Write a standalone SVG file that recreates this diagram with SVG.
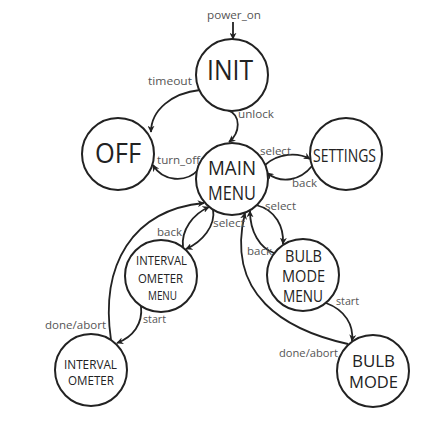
<svg xmlns="http://www.w3.org/2000/svg" width="446" height="425" viewBox="0 0 446 425">
<defs>
<marker id="arr" viewBox="0 0 10 10" refX="9" refY="5" markerWidth="7" markerHeight="7" orient="auto" markerUnits="userSpaceOnUse"><path d="M0,0 L10,5 L0,10 L3,5 z" fill="#222"/></marker>
<style>
.node circle{fill:#fff;stroke:#222;stroke-width:2}
.node text{font-family:"Open Sans","Noto Sans",sans-serif;fill:#222;text-anchor:middle}
.edges path{fill:none;stroke:#222;stroke-width:1.8;marker-end:url(#arr)}
.lbl{font-family:"Open Sans","Noto Sans",sans-serif;font-size:11px;fill:#555}
</style>
</defs>
<rect width="446" height="425" fill="#fff"/>
<g class="edges" id="connectors">
<path d="M233 22 L233 39"/>
<path d="M200 90 C172 93 151 110 151 132"/>
<path d="M227 110 C242 115 240 133 229 142"/>
<path d="M198 170 C186 183 163 182 153 165"/>
<path d="M265 165 C278 153 298 152 310 159"/>
<path d="M312 166 C300 181 281 184 267 173"/>
<path d="M256 205 C276 210 284 227 283 244"/>
<path d="M274 253 C260 248 250 232 250 211"/>
<path d="M348 344 C285 330 225 295 245 213"/>
<path d="M326 303 C345 310 354 325 352 341"/>
<path d="M213 209 C216 226 202 242 186 249"/>
<path d="M183 247 C181 230 193 214 209 207"/>
<path d="M111 340 C100 265 132 210 204 203"/>
<path d="M141 306 C143 324 133 337 117 343"/>
<text class="lbl" x="207" y="19" textLength="54" lengthAdjust="spacingAndGlyphs">power_on</text>
<text class="lbl" x="148" y="85" textLength="44" lengthAdjust="spacingAndGlyphs">timeout</text>
<text class="lbl" x="238" y="118" textLength="36" lengthAdjust="spacingAndGlyphs">unlock</text>
<text class="lbl" x="157" y="164" textLength="43" lengthAdjust="spacingAndGlyphs">turn_off</text>
<text class="lbl" x="260" y="155" textLength="31" lengthAdjust="spacingAndGlyphs">select</text>
<text class="lbl" x="292" y="187" textLength="25" lengthAdjust="spacingAndGlyphs">back</text>
<text class="lbl" x="265" y="210" textLength="31" lengthAdjust="spacingAndGlyphs">select</text>
<text class="lbl" x="213" y="227" textLength="32" lengthAdjust="spacingAndGlyphs">select</text>
<text class="lbl" x="247" y="255" textLength="25" lengthAdjust="spacingAndGlyphs">back</text>
<text class="lbl" x="157" y="236" textLength="25" lengthAdjust="spacingAndGlyphs">back</text>
<text class="lbl" x="143" y="323" textLength="23" lengthAdjust="spacingAndGlyphs">start</text>
<text class="lbl" x="45" y="329" textLength="61" lengthAdjust="spacingAndGlyphs">done/abort</text>
<text class="lbl" x="336" y="305" textLength="23" lengthAdjust="spacingAndGlyphs">start</text>
<text class="lbl" x="279" y="357" textLength="59" lengthAdjust="spacingAndGlyphs">done/abort</text>
</g>
<g class="node" id="init"><circle cx="232" cy="75" r="36"/><text x="230" y="80" font-size="27" textLength="46" lengthAdjust="spacingAndGlyphs">INIT</text></g>
<g class="node" id="off"><circle cx="118" cy="154" r="36"/><text x="118" y="163" font-size="27" textLength="46" lengthAdjust="spacingAndGlyphs">OFF</text></g>
<g class="node" id="main_menu"><circle cx="232" cy="179" r="36"/><text x="232" y="175" font-size="20" textLength="48" lengthAdjust="spacingAndGlyphs">MAIN</text><text x="232" y="200" font-size="20" textLength="48" lengthAdjust="spacingAndGlyphs">MENU</text></g>
<g class="node" id="settings"><circle cx="346" cy="154" r="36"/><text x="344.5" y="162" font-size="18" textLength="63" lengthAdjust="spacingAndGlyphs">SETTINGS</text></g>
<g class="node" id="intervalometer_menu"><circle cx="161" cy="276" r="36"/><text x="161.5" y="265" font-size="13" textLength="51" lengthAdjust="spacingAndGlyphs">INTERVAL</text><text x="160.5" y="283" font-size="13" textLength="45" lengthAdjust="spacingAndGlyphs">OMETER</text><text x="162.5" y="300" font-size="13" textLength="29" lengthAdjust="spacingAndGlyphs">MENU</text></g>
<g class="node" id="bulb_mode_menu"><circle cx="303" cy="275" r="36"/><text x="303.5" y="262" font-size="15.5" textLength="37" lengthAdjust="spacingAndGlyphs">BULB</text><text x="303.5" y="282" font-size="15.5" textLength="43" lengthAdjust="spacingAndGlyphs">MODE</text><text x="303" y="302" font-size="15.5" textLength="40" lengthAdjust="spacingAndGlyphs">MENU</text></g>
<g class="node" id="intervalometer"><circle cx="91" cy="370" r="36"/><text x="90.5" y="369" font-size="12.5" textLength="53" lengthAdjust="spacingAndGlyphs">INTERVAL</text><text x="91" y="385" font-size="12.5" textLength="46" lengthAdjust="spacingAndGlyphs">OMETER</text></g>
<g class="node" id="bulb_mode"><circle cx="373" cy="371" r="36"/><text x="373.5" y="367" font-size="17" textLength="43" lengthAdjust="spacingAndGlyphs">BULB</text><text x="373.5" y="388" font-size="17" textLength="49" lengthAdjust="spacingAndGlyphs">MODE</text></g>
</svg>
